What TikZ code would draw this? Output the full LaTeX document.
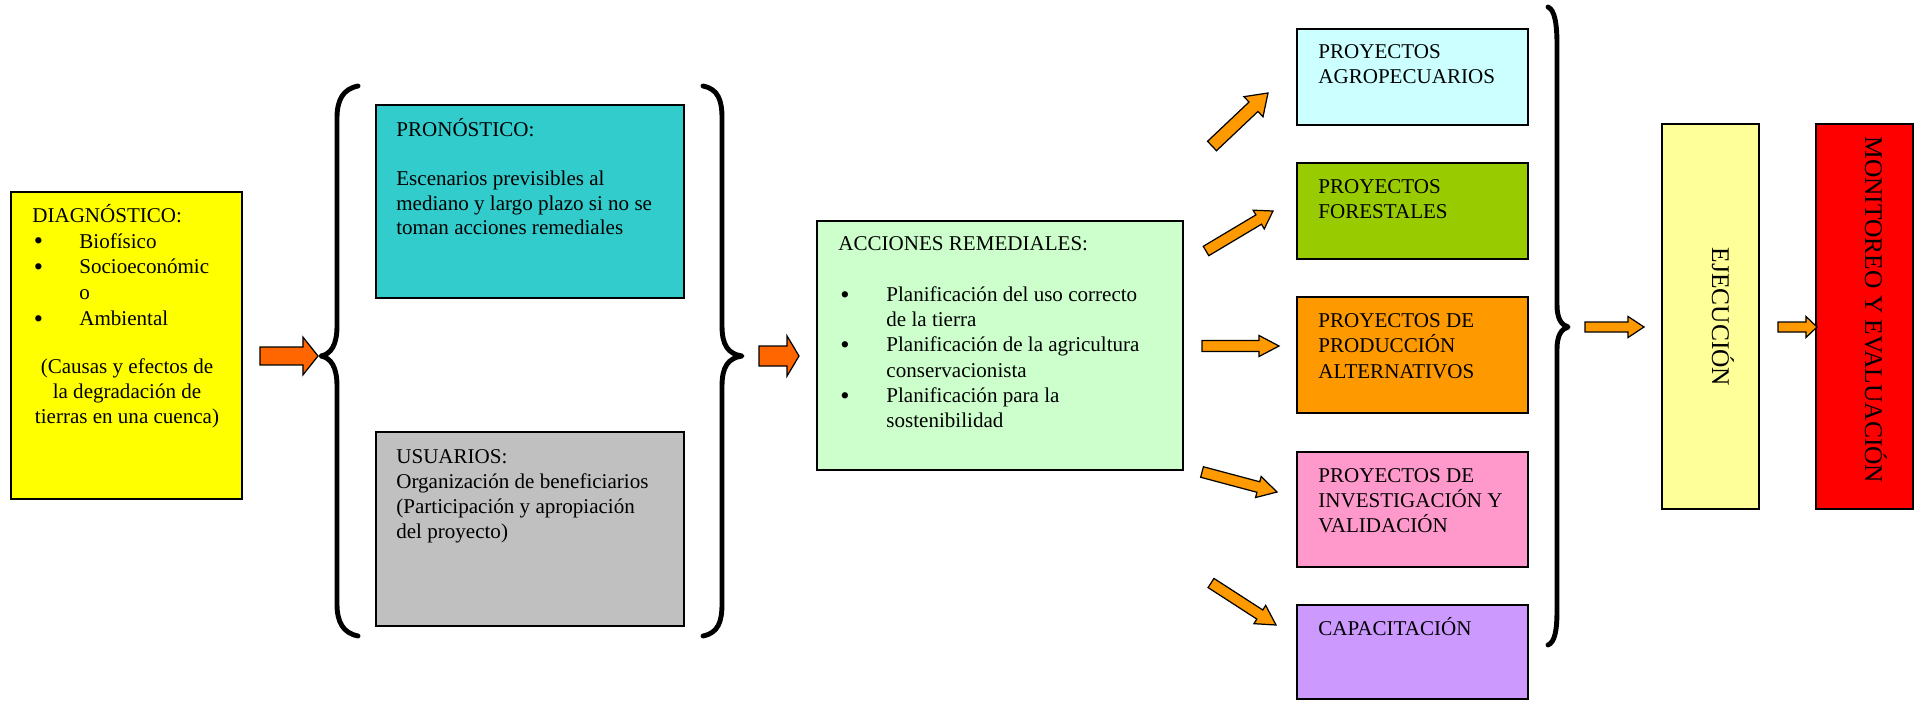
\documentclass[tikz,border=0pt]{standalone}
\usepackage{fontspec}
\setmainfont{Liberation Serif}
\usetikzlibrary{calc,fit}
\definecolor{cdiag}{HTML}{FFFF00}
\definecolor{cpron}{HTML}{33CCCC}
\definecolor{cusu}{HTML}{C0C0C0}
\definecolor{cacc}{HTML}{CCFFCC}
\definecolor{cagro}{HTML}{CCFFFF}
\definecolor{cfor}{HTML}{99CC00}
\definecolor{cprod}{HTML}{FF9900}
\definecolor{cinv}{HTML}{FF99CC}
\definecolor{ccap}{HTML}{CC99FF}
\definecolor{cejec}{HTML}{FFFF99}
\definecolor{cmon}{HTML}{FF0000}
\definecolor{credarrow}{HTML}{FF6600}
\definecolor{corarrow}{HTML}{FF9900}
\newcommand\fl{\rule{0pt}{12pt}}
\newcommand\bdot{\raisebox{-1pt}{\fontsize{15}{14}\selectfont •}}
\newcommand\bul{\hspace*{0.8pt}\makebox[26pt][l]{\bdot}}
\newcommand\ind{\hspace*{26.8pt}}
\newcommand\bulb{\hspace*{1.2pt}\makebox[26.2pt][l]{\bdot}}
\newcommand\indb{\hspace*{27.4pt}}
% #1 start, #2 end, #3 shaft half, #4 head half, #5 head length, #6 fill colour
\newcommand\blockarrow[6]{%
  \coordinate (#2-hb) at ($(#2)!#5!(#1)$);
  \draw[barrow, fill=#6] ($(#1)!#3!90:(#2)$) -- ($(#2-hb)!#3!90:(#2)$) -- ($(#2-hb)!#4!90:(#2)$) -- (#2)
    -- ($(#2-hb)!#4!-90:(#2)$) -- ($(#2-hb)!#3!-90:(#2)$) -- ($(#1)!#3!-90:(#2)$) -- cycle;}
\begin{document}
\begin{tikzpicture}[x=0.57pt,y=-0.57pt,
  box/.style={draw, line width=1pt, inner sep=0pt, outer sep=0pt},
  txt/.style={font=\fontsize{12}{14.3}\selectfont, inner sep=0pt, anchor=north west, align=left},
  rtxt/.style={font=\fontsize{14.5}{17}\selectfont, inner sep=0pt, rotate=-90, anchor=base},
  brace/.style={line width=2.8pt, line cap=round, line join=round},
  barrow/.style={draw, line width=0.7pt, line join=miter}]
\fill[white] (0,0) rectangle (1921,701);
\useasboundingbox (0,0) rectangle (1921,701);

% boxes
\node[box, fill=cdiag, fit={(11,192) (242,499)}] (diag) {};
\node[box, fill=cpron, fit={(376,105) (684,298)}] (pron) {};
\node[box, fill=cusu, fit={(376,432) (684,626)}] (usu) {};
\node[box, fill=cacc, fit={(817,221) (1183,470)}] (acc) {};
\node[box, fill=cagro, fit={(1297,29) (1528,125)}] (agro) {};
\node[box, fill=cfor, fit={(1297,163) (1528,259)}] (for) {};
\node[box, fill=cprod, fit={(1297,297) (1528,413)}] (prod) {};
\node[box, fill=cinv, fit={(1297,452) (1528,567)}] (inv) {};
\node[box, fill=ccap, fit={(1297,605) (1528,699)}] (cap) {};
\node[box, fill=cejec, fit={(1662,124) (1759,509)}] (ejec) {};
\node[box, fill=cmon, fit={(1816,124) (1913,509)}] (mon) {};

% texts
\node[txt, font=\fontsize{12}{14.7}\selectfont] (tdiag) at (32,201)
  {\fl DIAGNÓSTICO:\\ \bul Biofísico\\ \bul Socioeconómic\\ \ind o\\ \bul Ambiental};
\node[txt, anchor=north, align=center] (tdiag2) at (127,352)
  {\fl (Causas y efectos de\\ la degradación de\\ tierras en una cuenca)};
\node[txt, font=\fontsize{12}{14}\selectfont] (tpron) at (396,115)
  {\fl PRONÓSTICO:\\[14pt] Escenarios previsibles al\\ mediano y largo plazo si no se\\ toman acciones remediales};
\node[txt] (tusu) at (396,442)
  {\fl USUARIOS:\\ Organización de beneficiarios\\ (Participación y apropiación\\ del proyecto)};
\node[txt, font=\fontsize{12}{14.4}\selectfont] (tacc) at (838,229)
  {\fl ACCIONES REMEDIALES:\\[14.6pt] \bulb Planificación del uso correcto\\ \indb de la tierra\\ \bulb Planificación de la agricultura\\ \indb conservacionista\\ \bulb Planificación para la\\ \indb sostenibilidad};
\node[txt] (tagro) at (1318,37) {\fl PROYECTOS\\ AGROPECUARIOS};
\node[txt] (tfor) at (1318,172) {\fl PROYECTOS\\ FORESTALES};
\node[txt, font=\fontsize{12}{14.5}\selectfont] (tprod) at (1318,306) {\fl PROYECTOS DE\\ PRODUCCIÓN\\ ALTERNATIVOS};
\node[txt] (tinv) at (1318,461) {\fl PROYECTOS DE\\ INVESTIGACIÓN Y\\ VALIDACIÓN};
\node[txt] (tcap) at (1318,614) {\fl CAPACITACIÓN};
\node[rtxt] (tejec) at (1712,317) {EJECUCIÓN};
\node[rtxt] (tmon) at (1865,310) {MONITOREO Y EVALUACIÓN};

% braces
\draw[brace] (358,86) .. controls (343,89) and (337,100) .. (337,118) -- (337,326)
  .. controls (337,345) and (331,354) .. (321,356) .. controls (331,358) and (337,367) .. (337,386)
  -- (337,604) .. controls (337,622) and (343,633) .. (358,636);
\draw[brace] (703,86) .. controls (718,89) and (722,100) .. (722,118) -- (722,326)
  .. controls (722,345) and (728,354) .. (742,356) .. controls (728,358) and (722,367) .. (722,386)
  -- (722,604) .. controls (722,622) and (718,633) .. (703,636);
\draw[brace] (1548,7) .. controls (1555,10) and (1557,25) .. (1557,45) -- (1557,305)
  .. controls (1557,318) and (1561,325) .. (1568,327) .. controls (1561,329) and (1557,336) .. (1557,349)
  -- (1557,610) .. controls (1557,630) and (1555,642) .. (1548,645);

% arrow end points
\coordinate (a1s) at (260,356);  \coordinate (a1e) at (318,356);
\coordinate (a2s) at (759,356);  \coordinate (a2e) at (799,356);
\coordinate (a3s) at (1212,146); \coordinate (a3e) at (1268,93);
\coordinate (a4s) at (1206,251); \coordinate (a4e) at (1273,211);
\coordinate (a5s) at (1202,346); \coordinate (a5e) at (1279,346);
\coordinate (a6s) at (1202,472); \coordinate (a6e) at (1277,492);
\coordinate (a7s) at (1211,583); \coordinate (a7e) at (1276,625);
\coordinate (a8s) at (1585,327); \coordinate (a8e) at (1644,327);
\coordinate (a9s) at (1778,327); \coordinate (a9e) at (1817,327);

\blockarrow{a1s}{a1e}{5.1pt}{10.8pt}{8.6pt}{credarrow}
\blockarrow{a2s}{a2e}{5.7pt}{11.4pt}{6.8pt}{credarrow}
\blockarrow{a3s}{a3e}{3.7pt}{7.9pt}{11.4pt}{corarrow}
\blockarrow{a4s}{a4e}{3.1pt}{6.2pt}{9.5pt}{corarrow}
\blockarrow{a5s}{a5e}{3.1pt}{6pt}{11.4pt}{corarrow}
\blockarrow{a6s}{a6e}{3.1pt}{6.2pt}{11pt}{corarrow}
\blockarrow{a7s}{a7e}{3.1pt}{6.2pt}{11pt}{corarrow}
\blockarrow{a8s}{a8e}{2.85pt}{6pt}{9.1pt}{corarrow}
\blockarrow{a9s}{a9e}{2.85pt}{6pt}{6.3pt}{corarrow}
\end{tikzpicture}
\end{document}
